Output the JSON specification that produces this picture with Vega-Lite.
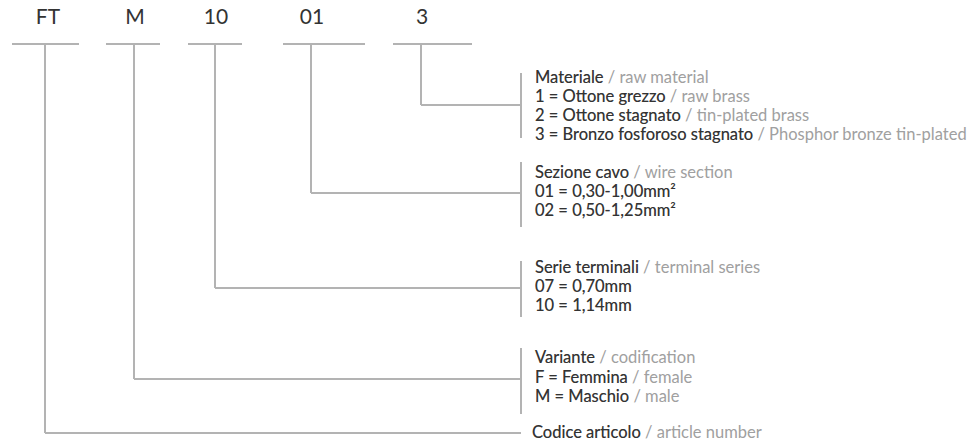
{
  "$schema": "https://vega.github.io/schema/vega-lite/v6.json",
  "width": 975,
  "height": 446,
  "autosize": {"type": "fit", "contains": "padding"},
  "padding": 0,
  "background": "white",
  "config": {"view": {"stroke": null}},
  "datasets": {
    "segments": [
      {"x1": 12, "y1": 44, "x2": 79, "y2": 44},
      {"x1": 106, "y1": 44, "x2": 160, "y2": 44},
      {"x1": 188, "y1": 44, "x2": 242, "y2": 44},
      {"x1": 283, "y1": 44, "x2": 365, "y2": 44},
      {"x1": 393, "y1": 44, "x2": 472, "y2": 44},
      {"x1": 45, "y1": 44, "x2": 45, "y2": 433},
      {"x1": 134, "y1": 44, "x2": 134, "y2": 379},
      {"x1": 215, "y1": 44, "x2": 215, "y2": 288},
      {"x1": 311, "y1": 44, "x2": 311, "y2": 193},
      {"x1": 421, "y1": 44, "x2": 421, "y2": 105},
      {"x1": 421, "y1": 105, "x2": 521, "y2": 105},
      {"x1": 311, "y1": 193, "x2": 521, "y2": 193},
      {"x1": 215, "y1": 288, "x2": 521, "y2": 288},
      {"x1": 134, "y1": 379, "x2": 521, "y2": 379},
      {"x1": 45, "y1": 433, "x2": 521, "y2": 433},
      {"x1": 521, "y1": 73, "x2": 521, "y2": 138},
      {"x1": 521, "y1": 162, "x2": 521, "y2": 227},
      {"x1": 521, "y1": 261, "x2": 521, "y2": 317},
      {"x1": 521, "y1": 348, "x2": 521, "y2": 414}
    ],
    "codes": [
      {"label": "FT", "x": 48, "y": 18},
      {"label": "M", "x": 135, "y": 18},
      {"label": "10", "x": 216, "y": 18},
      {"label": "01", "x": 312, "y": 18},
      {"label": "3", "x": 422, "y": 18}
    ],
    "lines": [
      {"full": "Materiale / raw material", "it": "Materiale", "x": 535, "y": 78},
      {"full": "1 = Ottone grezzo / raw brass", "it": "1 = Ottone grezzo", "x": 535, "y": 97},
      {"full": "2 = Ottone stagnato / tin-plated brass", "it": "2 = Ottone stagnato", "x": 535, "y": 116},
      {"full": "3 = Bronzo fosforoso stagnato / Phosphor bronze tin-plated", "it": "3 = Bronzo fosforoso stagnato", "x": 535, "y": 135},
      {"full": "Sezione cavo / wire section", "it": "Sezione cavo", "x": 535, "y": 173},
      {"full": "01 = 0,30-1,00mm²", "it": "01 = 0,30-1,00mm²", "x": 535, "y": 192},
      {"full": "02 = 0,50-1,25mm²", "it": "02 = 0,50-1,25mm²", "x": 535, "y": 211},
      {"full": "Serie terminali / terminal series", "it": "Serie terminali", "x": 535, "y": 268},
      {"full": "07 = 0,70mm", "it": "07 = 0,70mm", "x": 535, "y": 287},
      {"full": "10 = 1,14mm", "it": "10 = 1,14mm", "x": 535, "y": 306},
      {"full": "Variante / codification", "it": "Variante", "x": 535, "y": 358},
      {"full": "F = Femmina / female", "it": "F = Femmina", "x": 535, "y": 378},
      {"full": "M = Maschio / male", "it": "M = Maschio", "x": 535, "y": 397},
      {"full": "Codice articolo / article number", "it": "Codice articolo", "x": 532, "y": 433}
    ]
  },
  "layer": [
    {
      "data": {"name": "segments"},
      "mark": {"type": "rule", "color": "#b3b3b3", "strokeWidth": 2},
      "encoding": {
        "x": {"field": "x1", "type": "quantitative", "scale": {"domain": [0, 975], "nice": false, "zero": false}, "axis": null},
        "y": {"field": "y1", "type": "quantitative", "scale": {"domain": [446, 0], "nice": false, "zero": false}, "axis": null},
        "x2": {"field": "x2"},
        "y2": {"field": "y2"}
      }
    },
    {
      "data": {"name": "codes"},
      "mark": {"type": "text", "font": "Lato", "fontSize": 21, "color": "#333333", "align": "center", "baseline": "middle"},
      "encoding": {
        "x": {"field": "x", "type": "quantitative"},
        "y": {"field": "y", "type": "quantitative"},
        "text": {"field": "label"}
      }
    },
    {
      "data": {"name": "lines"},
      "mark": {"type": "text", "font": "Lato", "fontSize": 16.5, "color": "#a0a0a0", "align": "left", "baseline": "middle"},
      "encoding": {
        "x": {"field": "x", "type": "quantitative"},
        "y": {"field": "y", "type": "quantitative"},
        "text": {"field": "full"}
      }
    },
    {
      "data": {"name": "lines"},
      "mark": {"type": "text", "font": "Lato", "fontSize": 16.5, "color": "#333333", "align": "left", "baseline": "middle"},
      "encoding": {
        "x": {"field": "x", "type": "quantitative"},
        "y": {"field": "y", "type": "quantitative"},
        "text": {"field": "it"}
      }
    }
  ]
}
